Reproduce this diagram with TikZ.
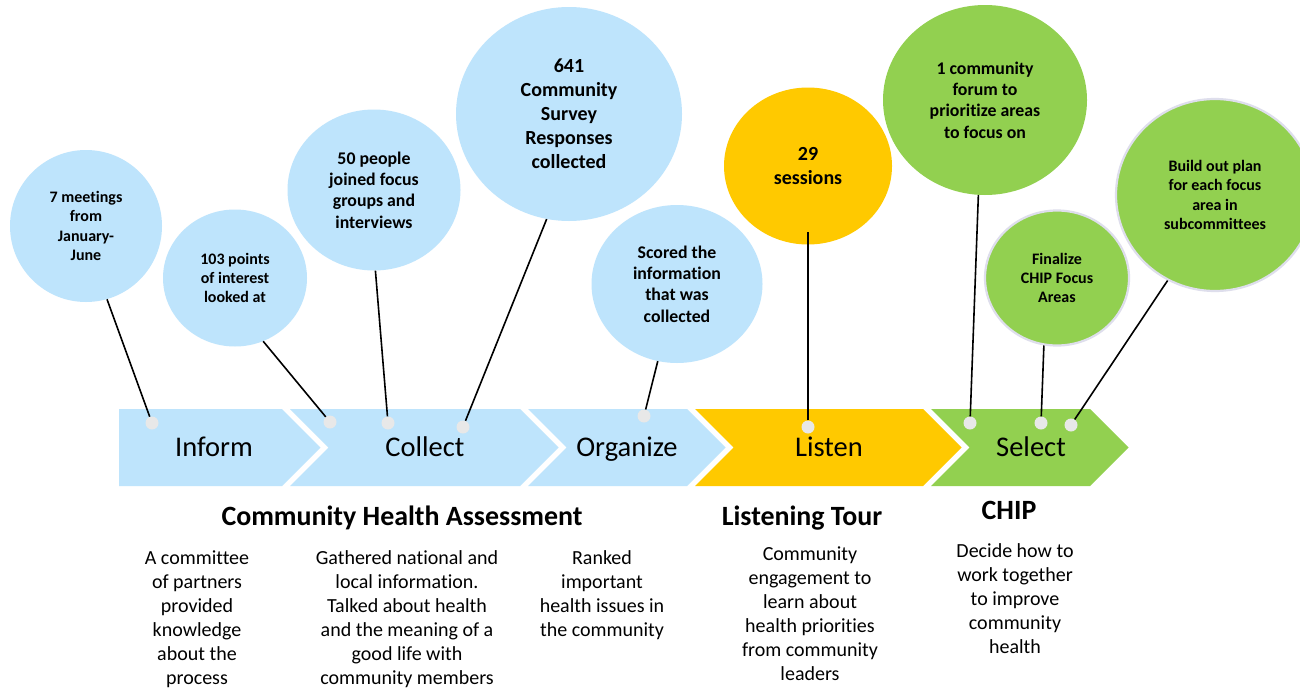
\documentclass[tikz,border=0pt]{standalone}
\usepackage{fontspec}
\setmainfont{Carlito}[Ligatures={NoCommon}]
\usetikzlibrary{shapes.geometric}
\definecolor{lblue}{RGB}{190,228,252}
\definecolor{gold}{RGB}{255,201,0}
\definecolor{lgreen}{RGB}{146,208,80}
\definecolor{dotgray}{RGB}{232,232,232}
\definecolor{ringgray}{RGB}{222,222,236}
\newcommand\firstrule{\rule{0pt}{0.8em}}
\begin{document}
\begin{tikzpicture}[x=1pt,y=-1pt,
  bubble/.style={ellipse, inner sep=0pt, align=center, text=black},
  fs/.style={font=\bfseries\fontsize{16}{19.2}\selectfont},
  fm/.style={font=\bfseries\fontsize{17.8}{21.4}\selectfont},
  fl/.style={font=\bfseries\fontsize{20}{24}\selectfont},
  dotnode/.style={circle, fill=dotgray, minimum size=13pt, inner sep=0pt},
  conn/.style={black, line width=1.6pt},
  chevlabel/.style={anchor=base, inner sep=0pt, font=\fontsize{28.5}{34}\selectfont},
  heading/.style={anchor=base, inner sep=0pt, font=\bfseries\fontsize{27.9}{33}\selectfont},
  desc/.style={anchor=north, inner sep=0pt, align=center, font=\fontsize{20}{24}\selectfont}
]
\clip (0,0) rectangle (1300,688);
\fill[white] (0,0) rectangle (1300,688);

% chevrons
\fill[lblue] (119,409) -- (282,409) -- (320.5,447.5) -- (282,486) -- (119,486) -- cycle;
\fill[lblue] (290,409) -- (520,409) -- (558.5,447.5) -- (520,486) -- (290,486) -- (328.5,447.5) -- cycle;
\fill[lblue] (528,409) -- (687,409) -- (725.5,447.5) -- (687,486) -- (528,486) -- (566.5,447.5) -- cycle;
\fill[gold] (695,409) -- (923,409) -- (961.5,447.5) -- (923,486) -- (695,486) -- (733.5,447.5) -- cycle;
\fill[lgreen] (931,409) -- (1090,409) -- (1128.5,447.5) -- (1090,486) -- (931,486) -- (969.5,447.5) -- cycle;

\node[chevlabel] (linform) at (214,456) {Inform};
\node[chevlabel] (lcollect) at (425,456) {Collect};
\node[chevlabel] (lorganize) at (627,456) {Organize};
\node[chevlabel] (llisten) at (829,456) {Listen};
\node[chevlabel] (lselect) at (1031,456) {Select};

% bubbles
\node[bubble, fs, fill=lblue, minimum width=152pt, minimum height=152pt] (c1) at (86,226) {7 meetings\\from\\January-\\June};
\node[bubble, fs, fill=lblue, minimum width=144pt, minimum height=137pt] (c2) at (235,278) {103 points\\of interest\\looked at};
\node[bubble, fm, fill=lblue, minimum width=173pt, minimum height=161pt] (c3) at (374,190) {50 people\\joined focus\\groups and\\interviews};
\node[bubble, fl, fill=lblue, minimum width=226pt, minimum height=214pt] (c4) at (569,114) {641\\Community\\Survey\\Responses\\collected};
\node[bubble, fm, fill=lblue, minimum width=171pt, minimum height=158pt] (c5) at (677,284) {Scored the\\information\\that was\\collected};
\node[bubble, fl, fill=gold, minimum width=168pt, minimum height=157pt] (c6) at (808,166) {29\\sessions};
\node[bubble, fm, fill=lgreen, minimum width=204pt, minimum height=190pt] (c7) at (985,100) {1 community\\forum to\\prioritize areas\\to focus on};
\node[bubble, fs, fill=lgreen, draw=ringgray, line width=2.2pt, minimum width=144pt, minimum height=135pt] (c8) at (1057,278) {Finalize\\CHIP Focus\\Areas};
\node[bubble, fs, fill=lgreen, draw=ringgray, line width=2.2pt, minimum width=198pt, minimum height=192pt] (c9) at (1215,195) {Build out plan\\for each focus\\area in\\subcommittees};

% dots
\node[dotnode] (d1) at (152,423) {};
\node[dotnode] (d2) at (330,422) {};
\node[dotnode] (d3) at (388,423) {};
\node[dotnode] (d4) at (463,427) {};
\node[dotnode] (d5) at (644,416) {};
\node[dotnode] (d6) at (808,427) {};
\node[dotnode] (d7) at (970,423) {};
\node[dotnode] (d8) at (1041,423) {};
\node[dotnode] (d9) at (1071,425) {};

% connectors
\draw[conn] (c1.-74) -- (d1);
\draw[conn] (c2.-66) -- (d2);
\draw[conn] (c3.-89) -- (d3);
\draw[conn] (c4.-102) -- (d4);
\draw[conn] (c5.-104) -- (d5);
\draw[conn, shorten >=66pt] (d6) -- (c6.center);
\draw[conn] (c7.-94) -- (d7);
\draw[conn] (c8.-101) -- (d8);
\draw[conn] (c9.-119) -- (d9);

% headings
\node[heading] (hcha) at (402,525) {Community Health Assessment};
\node[heading] (hlt) at (802,525) {Listening Tour};
\node[heading] (hchip) at (1009,519) {CHIP};

% descriptions
\node[desc] (t1) at (197,564-16) {\firstrule A committee\\of partners\\provided\\knowledge\\about the\\process};
\node[desc] (t2) at (407,564-16) {\firstrule Gathered national and\\local information.\\Talked about health\\and the meaning of a\\good life with\\community members};
\node[desc] (t3) at (602,564-16) {\firstrule Ranked\\important\\health issues in\\the community};
\node[desc] (t4) at (810,560-16) {\firstrule Community\\engagement to\\learn about\\health priorities\\from community\\leaders};
\node[desc] (t5) at (1015,557-16) {\firstrule Decide how to\\work together\\to improve\\community\\health};
\end{tikzpicture}
\end{document}
